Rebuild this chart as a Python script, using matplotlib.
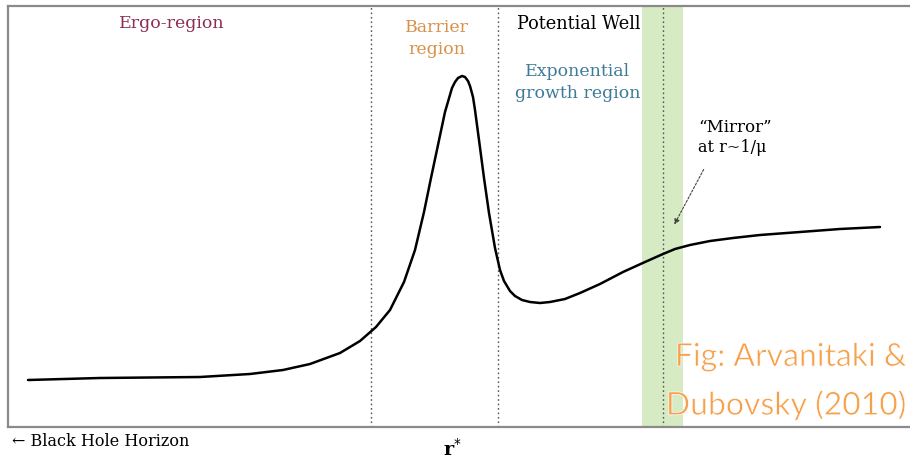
import matplotlib
matplotlib.use("Agg")
import matplotlib.pyplot as plt
import matplotlib.patheffects as pe

# Effective potential along the tortoise coordinate r*
r_star = [28, 100, 200, 250, 283, 310, 340, 360, 376, 390, 404, 415, 424, 431,
          438, 445, 452, 455, 458, 462, 465, 468, 470, 473, 475, 479, 484, 489,
          495, 500, 504, 510, 515, 522, 530, 540, 550, 565, 580, 600, 623, 645,
          663, 675, 690, 710, 733, 760, 800, 840, 880]
y_pix = [380, 378, 377, 374, 370, 364, 353, 341, 327, 310, 282, 250, 212, 178,
         145, 112, 88, 82, 78, 76, 77, 81, 86, 97, 110, 140, 178, 213,
         248, 270, 281, 291, 296, 300, 302, 303, 302, 299, 293, 284, 272, 262,
         254, 249, 245, 241, 238, 235, 232, 229, 227]
potential = [427 - y for y in y_pix]

# Region boundaries and the mirror band
boundaries = [371, 498, 663]
mirror_band = (642, 683)

W, H = 910, 462
fig = plt.figure(figsize=(W / 100, H / 100), dpi=100)
ax = fig.add_axes([8 / W, 35 / H, 902 / W, 421 / H])
ax.set_xlim(8, 910)
ax.set_ylim(0, 421)
ax.set_xticks([])
ax.set_yticks([])
for side in ("left", "top", "bottom"):
    ax.spines[side].set_color("#8a8a8a")
    ax.spines[side].set_linewidth(1.6)
ax.spines["right"].set_visible(False)

ax.axvspan(*mirror_band, color="#d6ebc4", zorder=0, lw=0)
for xb in boundaries:
    ax.axvline(xb, color="#555555", lw=1.0, ls=(0, (1.2, 2.0)), zorder=1)

ax.plot(r_star, potential, color="black", lw=1.8, zorder=3,
        solid_capstyle="round", solid_joinstyle="round")

serif = "DejaVu Serif"


def T(x, ypix, s, **kw):
    kw.setdefault("family", serif)
    return ax.text(x, 427 - ypix, s, clip_on=False, **kw)


T(172, 23, "Ergo-region", color="#8c2f55", fontsize=12.5,
  ha="center", va="center")
T(437, 28, "Barrier", color="#d8914a", fontsize=12.5, ha="center", va="center")
T(437, 49, "region", color="#d8914a", fontsize=12.5, ha="center", va="center")
T(517, 24, "Potential Well", color="black", fontsize=12.8,
  ha="left", va="center")
T(578, 72, "Exponential", color="#3e7b98", fontsize=12.5,
  ha="center", va="center")
T(578, 93, "growth region", color="#3e7b98", fontsize=12.5,
  ha="center", va="center")
T(735, 127, "\u201cMirror\u201d", color="black", fontsize=12,
  ha="center", va="center")
T(732, 148, "at r~1/\u03bc", color="black", fontsize=11.5,
  ha="center", va="center")

ax.annotate("", xy=(673, 427 - 227), xytext=(705, 427 - 167),
            arrowprops=dict(arrowstyle="-|>", color="#444444", lw=0.8,
                            ls=(0, (2, 1.5)), mutation_scale=8))

T(12, 441, "\u2190 Black Hole Horizon", color="black", fontsize=11.5,
  ha="left", va="center")
T(452, 449, "r$^{*}$", color="black", fontsize=14, fontweight="bold",
  ha="center", va="center")

# Citation, drawn in a thinned humanist sans
thin = [pe.Stroke(linewidth=0.5, foreground="white")]
T(907, 357, "Fig: Arvanitaki &", family="Lato", fontweight="normal",
  color="#f7a04a", fontsize=23, ha="right", va="center", path_effects=thin)
T(907, 405, "Dubovsky (2010)", family="Lato", fontweight="normal",
  color="#f7a04a", fontsize=23, ha="right", va="center", path_effects=thin)

fig.savefig("out.png", dpi=100)
